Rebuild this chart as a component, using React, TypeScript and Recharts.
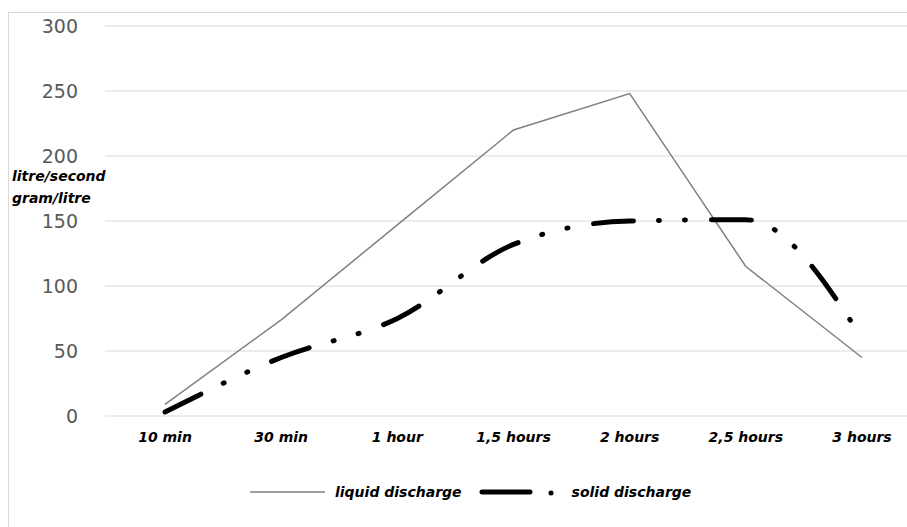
import { CartesianGrid, Line, LineChart, XAxis, YAxis } from "recharts";

const CATEGORIES = ["10 min", "30 min", "1 hour", "1,5 hours", "2 hours", "2,5 hours", "3 hours"];
const LIQUID = [9, 74, 147, 220, 248, 115, 45];
const SOLID = [3, 45, 75, 132, 150, 151, 60];
const Y_TICKS = [0, 50, 100, 150, 200, 250, 300];
const SERIES_NAMES = ["liquid discharge", "solid discharge"];
const Y_LABEL = ["litre/second", "gram/litre"];

const data = CATEGORIES.map((cat, i) => ({ cat, liquid: LIQUID[i], solid: SOLID[i] }));

const FONT = "'DejaVu Sans', Verdana, sans-serif";
const SOLID_DASH = "40 25 1 25 1 26";

const xTick = { fill: "#000", fontFamily: FONT, fontStyle: "italic", fontWeight: 700, fontSize: 14 };
const yTick = { fill: "#595959", fontFamily: FONT, fontSize: 19 };
const labelStyle = { fontFamily: FONT, fontStyle: "italic" as const, fontWeight: 700, fontSize: 14, color: "#000" };

export default function App() {
  return (
    <div style={{ position: "fixed", left: 0, top: 0, width: 907, height: 527, overflow: "hidden", background: "#fff" }}>
      <div
        style={{
          position: "absolute",
          left: 8,
          top: 12,
          width: 920,
          height: 540,
          borderLeft: "1px solid #d9d9d9",
          borderTop: "1px solid #d9d9d9",
        }}
      />
      <div style={{ position: "absolute", left: 0, top: 0 }}>
        <LineChart width={930} height={527} data={data} margin={{ top: 26, right: 2, left: 0, bottom: 81 }}>
          <CartesianGrid stroke="#d9d9d9" vertical={false} />
          <XAxis
            dataKey="cat"
            interval={0}
            axisLine={false}
            tickLine={false}
            tickSize={0}
            tickMargin={16}
            height={30}
            padding={{ left: 60, right: 66 }}
            tick={xTick}
          />
          <YAxis
            domain={[0, 300]}
            ticks={Y_TICKS}
            axisLine={false}
            tickLine={false}
            tickSize={0}
            tickMargin={27}
            width={105}
            tick={yTick}
          />
          <Line
            dataKey="liquid"
            name={SERIES_NAMES[0]}
            stroke="#808080"
            strokeWidth={1.5}
            dot={false}
            type="linear"
            isAnimationActive={false}
          />
          <Line
            dataKey="solid"
            name={SERIES_NAMES[1]}
            stroke="#000"
            strokeWidth={5}
            strokeDasharray={SOLID_DASH}
            strokeLinecap="round"
            dot={false}
            type="monotone"
            isAnimationActive={false}
          />
        </LineChart>
      </div>
      <div style={{ position: "absolute", left: 12, top: 165, lineHeight: "22px", ...labelStyle }}>
        {Y_LABEL.map((t) => (
          <div key={t}>{t}</div>
        ))}
      </div>
      <div style={{ position: "absolute", left: 250, top: 482, display: "flex", alignItems: "center", ...labelStyle }}>
        <svg width={76} height={20}>
          <line x1={0} y1={10} x2={75} y2={10} stroke="#808080" strokeWidth={1.5} />
        </svg>
        <span style={{ marginLeft: 9 }}>{SERIES_NAMES[0]}</span>
        <svg width={100} height={20} style={{ marginLeft: 10 }}>
          <line x1={10} y1={10} x2={58} y2={10} stroke="#000" strokeWidth={5} strokeLinecap="round" />
          <circle cx={79} cy={11} r={2.5} fill="#000" />
        </svg>
        <span style={{ marginLeft: 0 }}>{SERIES_NAMES[1]}</span>
      </div>
    </div>
  );
}
